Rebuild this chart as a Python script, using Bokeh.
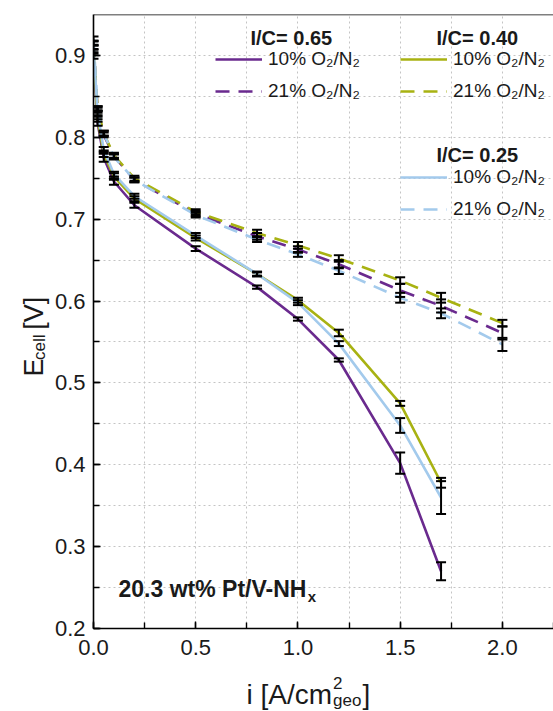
import numpy as np
from bokeh.plotting import figure
from bokeh.layouts import column, row
from bokeh.models import (Range1d, SingleIntervalTicker, NumeralTickFormatter, Whisker, TeeHead,
                          ColumnDataSource, Legend, LegendItem, Label, Span)
from bokeh.embed import file_html
from bokeh.resources import INLINE

# ---------------- data ----------------
i_10 = [0.0, 0.02, 0.05, 0.1, 0.2, 0.5, 0.8, 1.0, 1.2, 1.5, 1.7]
i_21 = [0.0, 0.02, 0.05, 0.1, 0.2, 0.5, 0.8, 1.0, 1.2, 1.5, 1.7, 2.0]

# I/C = 0.65
E_065_10 = [0.900, 0.818, 0.775, 0.746, 0.717, 0.664, 0.617, 0.578, 0.528, 0.402, 0.270]
err_065_10 = [0.004, 0.004, 0.005, 0.004, 0.003, 0.003, 0.002, 0.002, 0.002, 0.013, 0.011]
E_065_21 = [0.915, 0.833, 0.803, 0.777, 0.748, 0.707, 0.679, 0.663, 0.645, 0.613, 0.594, 0.561]
err_065_21 = [0.003, 0.003, 0.003, 0.003, 0.003, 0.003, 0.004, 0.004, 0.005, 0.008, 0.008, 0.008]

# I/C = 0.40
E_040_10 = [0.905, 0.822, 0.780, 0.752, 0.725, 0.677, 0.633, 0.601, 0.561, 0.475, 0.378]
err_040_10 = [0.003, 0.003, 0.004, 0.004, 0.003, 0.003, 0.002, 0.003, 0.004, 0.003, 0.006]
E_040_21 = [0.915, 0.835, 0.805, 0.778, 0.750, 0.709, 0.683, 0.668, 0.652, 0.625, 0.604, 0.573]
err_040_21 = [0.003, 0.003, 0.003, 0.003, 0.003, 0.003, 0.004, 0.004, 0.004, 0.004, 0.006, 0.004]

# I/C = 0.25
E_025_10 = [0.910, 0.830, 0.785, 0.755, 0.728, 0.680, 0.633, 0.598, 0.548, 0.448, 0.360]
err_025_10 = [0.003, 0.003, 0.003, 0.003, 0.003, 0.003, 0.003, 0.003, 0.003, 0.009, 0.020]
E_025_21 = [0.920, 0.835, 0.805, 0.776, 0.748, 0.705, 0.675, 0.657, 0.637, 0.604, 0.585, 0.547]
err_025_21 = [0.003, 0.003, 0.003, 0.003, 0.003, 0.003, 0.003, 0.003, 0.004, 0.006, 0.006, 0.008]

tick_label_fmt = "0.0"
legend_labels = ["10% O₂/N₂", "21% O₂/N₂"]
group_titles = ["I/C= 0.65", "I/C= 0.40", "I/C= 0.25"]
annotation_text = "20.3 wt% Pt/V-NH"

PURPLE = "#6a2a8e"
OLIVE = "#a8b212"
BLUE = "#a3caec"
FONT = "Liberation Sans"
TXT = "#1a1a1a"

# ---------------- layout (global page pixels) ----------------
W, H = 553, 711
YT_W = 50            # strip for y-axis title
XT_H = 41            # strip for x-axis title
FR_L, FR_T, FR_R, FR_B = 93, 14, 553, 628   # plot frame in page px
X0, X1 = 0.0, 2.25
Y0, Y1 = 0.2, 0.95

MW = W - YT_W        # main figure width
MH = H - XT_H        # main figure height


def fx(px):
    return X0 + (px - FR_L) * (X1 - X0) / (FR_R - FR_L)


def fy(py):
    return Y0 + (FR_B - py) * (Y1 - Y0) / (FR_B - FR_T)


p = figure(width=MW, height=MH, output_backend="svg", toolbar_location=None,
           x_range=Range1d(X0, X1), y_range=Range1d(Y0, Y1),
           min_border_left=FR_L - YT_W, min_border_right=0,
           min_border_top=FR_T, min_border_bottom=MH - FR_B)
p.outline_line_color = None
p.background_fill_color = "white"
p.border_fill_color = "white"

# axes
p.xaxis.ticker = SingleIntervalTicker(interval=0.5, num_minor_ticks=2)
p.yaxis.ticker = SingleIntervalTicker(interval=0.1, num_minor_ticks=2)
for ax in (p.xaxis[0], p.yaxis[0]):
    ax.formatter = NumeralTickFormatter(format=tick_label_fmt)
    ax.axis_line_width = 1.6
    ax.axis_line_color = "black"
    ax.major_tick_in = 7
    ax.major_tick_out = 0
    ax.minor_tick_in = 6
    ax.minor_tick_out = 0
    ax.major_tick_line_width = 1.4
    ax.minor_tick_line_width = 1.4
    ax.major_label_text_font = FONT
    ax.major_label_text_font_size = "22px"
    ax.major_label_text_color = TXT
    ax.axis_label = None
p.xaxis[0].major_label_standoff = 11
p.yaxis[0].major_label_standoff = 8

p.add_layout(Span(location=Y1, dimension="width", line_color="black", line_width=1.6))

# grid
p.xgrid.ticker = SingleIntervalTicker(interval=0.25)
p.ygrid.ticker = SingleIntervalTicker(interval=0.05)
for g in (p.xgrid[0], p.ygrid[0]):
    g.grid_line_color = "#c4c4c4"
    g.grid_line_dash = "2 3"
    g.grid_line_width = 1

# ---------------- series ----------------
series = [
    (i_21, E_065_21, err_065_21, PURPLE, "dashed"),
    (i_21, E_040_21, err_040_21, OLIVE, "dashed"),
    (i_21, E_025_21, err_025_21, BLUE, "dashed"),
    (i_10, E_065_10, err_065_10, PURPLE, "solid"),
    (i_10, E_040_10, err_040_10, OLIVE, "solid"),
    (i_10, E_025_10, err_025_10, BLUE, "solid"),
]
renderers = []
for xs, ys, es, col, dash in series:
    src = ColumnDataSource(dict(x=xs, y=ys))
    r = p.line("x", "y", source=src, line_color=col, line_width=2.6,
               line_dash=("14 9" if dash == "dashed" else "solid"))
    renderers.append(r)

for xs, ys, es, col, dash in series:
    src = ColumnDataSource(dict(x=xs,
                                upper=list(np.array(ys) + np.array(es)),
                                lower=list(np.array(ys) - np.array(es))))
    w = Whisker(source=src, base="x", upper="upper", lower="lower", dimension="height",
                line_color="black", line_width=2, level="overlay",
                upper_head=TeeHead(size=10, line_width=2, line_color="black"),
                lower_head=TeeHead(size=10, line_width=2, line_color="black"))
    p.add_layout(w)

r65_21, r40_21, r25_21, r65_10, r40_10, r25_10 = renderers

# ---------------- legends ----------------
ROW_H, ROW_GAP = 20, 10
LEG_H = 2 * ROW_H + ROW_GAP


def make_legend(r_solid, r_dash, left_px, top_px):
    lg = Legend(items=[LegendItem(label=legend_labels[0], renderers=[r_solid]),
                       LegendItem(label=legend_labels[1], renderers=[r_dash])],
                location=(left_px - FR_L, FR_B - (top_px + LEG_H)),
                orientation="vertical", padding=0, margin=0, spacing=ROW_GAP,
                glyph_width=47, glyph_height=ROW_H, label_height=ROW_H, label_standoff=6,
                label_text_font=FONT, label_text_font_size="19px", label_text_color=TXT,
                border_line_color=None, background_fill_alpha=0)
    p.add_layout(lg)


make_legend(r65_10, r65_21, 215, 52)
make_legend(r40_10, r40_21, 400, 52)
make_legend(r25_10, r25_21, 400, 170)

for txt, px, py in [(group_titles[0], 250, 37), (group_titles[1], 436, 37), (group_titles[2], 436, 154)]:
    p.add_layout(Label(x=fx(px), y=fy(py), text=txt, text_font=FONT, text_font_size="20px",
                       text_font_style="bold", text_color=TXT, text_baseline="middle", text_align="left"))

# annotation
p.add_layout(Label(x=fx(118), y=fy(588), text=annotation_text, text_font=FONT, text_font_size="23px",
                   text_font_style="bold", text_color=TXT, text_baseline="alphabetic"))
p.add_layout(Label(x=fx(118 + 8.224 * 23), y=fy(596), text="x", text_font=FONT, text_font_size="15px",
                   text_font_style="bold", text_color=TXT, text_baseline="alphabetic"))

# ---------------- y-axis title strip ----------------
yt = figure(width=YT_W, height=MH, output_backend="svg", toolbar_location=None,
            x_range=Range1d(0, YT_W), y_range=Range1d(0, MH), x_axis_type=None, y_axis_type=None,
            min_border=0, outline_line_color=None)
yt.xgrid.visible = False
yt.ygrid.visible = False
YF = 27
SUBF = 17
yb = 33
ys0 = 395
yt.add_layout(Label(x=yb, y=MH - ys0, text="E", angle=np.pi / 2, text_font=FONT,
                    text_font_size=f"{YF}px", text_color=TXT, text_baseline="alphabetic"))
ys1 = ys0 - 0.667 * YF
yt.add_layout(Label(x=yb + 6, y=MH - ys1, text="cell", angle=np.pi / 2, text_font=FONT,
                    text_font_size=f"{SUBF}px", text_color=TXT, text_baseline="alphabetic"))
ys2 = ys1 - 1.5 * SUBF - 0.278 * YF
yt.add_layout(Label(x=yb, y=MH - ys2, text="[V]", angle=np.pi / 2, text_font=FONT,
                    text_font_size=f"{YF}px", text_color=TXT, text_baseline="alphabetic"))

# ---------------- x-axis title strip ----------------
xt = figure(width=W, height=XT_H, output_backend="svg", toolbar_location=None,
            x_range=Range1d(0, W), y_range=Range1d(0, XT_H), x_axis_type=None, y_axis_type=None,
            min_border=0, outline_line_color=None)
xt.xgrid.visible = False
xt.ygrid.visible = False
XF = 28
xs0 = 246
xb = 694


def xty(py):
    return XT_H - (py - MH)


xt.add_layout(Label(x=xs0, y=xty(xb), text="i [A/cm", text_font=FONT, text_font_size=f"{XF}px",
                    text_color=TXT, text_baseline="alphabetic"))
xs1 = xs0 + 3.056 * XF + 1
xt.add_layout(Label(x=xs1, y=xty(xb - 12), text="2", text_font=FONT, text_font_size=f"{SUBF}px",
                    text_color=TXT, text_baseline="alphabetic"))
xt.add_layout(Label(x=xs1, y=xty(xb + 6), text="geo", text_font=FONT, text_font_size=f"{SUBF}px",
                    text_color=TXT, text_baseline="alphabetic"))
xt.add_layout(Label(x=xs1 + 1.668 * SUBF + 1, y=xty(xb), text="]", text_font=FONT,
                    text_font_size=f"{XF}px", text_color=TXT, text_baseline="alphabetic"))

layout = column(row(yt, p, spacing=0), xt, spacing=0)
open("out.html", "w").write(file_html(layout, INLINE))
